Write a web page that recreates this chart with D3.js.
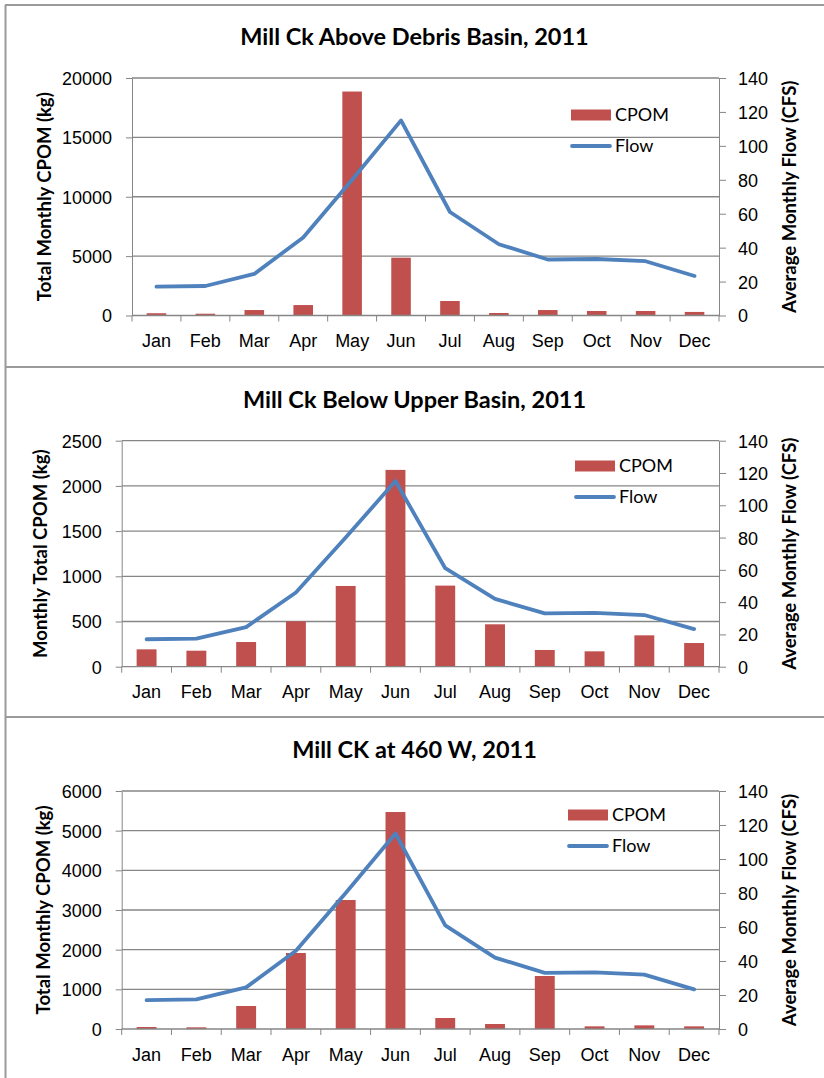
<!DOCTYPE html>
<html>
<head>
<meta charset="utf-8">
<script src="https://cdn.jsdelivr.net/npm/d3@7"></script>
<style>
  body { margin: 0; background: #fff; }
  svg { display: block; font-family: Lato, "Open Sans", sans-serif; }
  .axis path, .axis line { stroke: #868686; }
  .axis text { fill: #000; font-size: 18px; }
</style>
</head>
<body>
<svg width="824" height="1078"></svg>
<script>
const months = ['Jan', 'Feb', 'Mar', 'Apr', 'May', 'Jun', 'Jul', 'Aug', 'Sep', 'Oct', 'Nov', 'Dec'];

// average monthly flow (CFS), same gauge in every panel
const flow = [17, 17.4, 24.5, 46, 80, 115, 61, 42, 33, 33.3, 32, 23.3];

// total monthly CPOM (kg) per site
const cpomAboveDebris = [190, 150, 460, 880, 18860, 4870, 1220, 210, 460, 380, 380, 300];
const cpomBelowUpper = [192, 177, 273, 502, 893, 2177, 897, 469, 185, 170, 347, 262];
const cpom460W = [50, 42, 580, 1916, 3252, 5470, 277, 126, 1336, 67, 92, 67];

const leftTicks1 = [0, 5000, 10000, 15000, 20000];
const leftTicks2 = [0, 500, 1000, 1500, 2000, 2500];
const leftTicks3 = [0, 1000, 2000, 3000, 4000, 5000, 6000];
const rightTicks = [0, 20, 40, 60, 80, 100, 120, 140];

const panels = [
  {title: 'Mill Ck Above Debris Basin, 2011', yLabel: 'Total Monthly CPOM (kg)', cpom: cpomAboveDebris,
   ticks: leftTicks1, left: 132, top: 78, bottom: 315.5, titleY: 45, yLabelX: 45, legendX: 571, legendY: 115},
  {title: 'Mill Ck Below Upper Basin, 2011', yLabel: 'Monthly Total CPOM (kg)', cpom: cpomBelowUpper,
   ticks: leftTicks2, left: 121.7, top: 440.7, bottom: 666.7, titleY: 407.7, yLabelX: 41, legendX: 575, legendY: 466},
  {title: 'Mill CK at 460 W, 2011', yLabel: 'Total Monthly CPOM (kg)', cpom: cpom460W,
   ticks: leftTicks3, left: 121.7, top: 791, bottom: 1029, titleY: 758, yLabelX: 44, legendX: 568, legendY: 815}
];

const right = 719;
const barColor = '#C0504D';
const lineColor = '#4F81BD';
const svg = d3.select('svg');

// frame lines round the three chart boxes
const frame = svg.append('g').attr('stroke', '#9a9a9a').attr('stroke-width', 2);
frame.append('line').attr('x1', 5.5).attr('x2', 5.5).attr('y1', 5).attr('y2', 1078);
[5, 367, 717].forEach(y => {
  frame.append('line').attr('x1', 5).attr('x2', 824).attr('y1', y).attr('y2', y);
});

panels.forEach(p => {
  const g = svg.append('g');

  const x = d3.scaleBand()
    .domain(months)
    .range([p.left, right])
    .padding(0);

  const y = d3.scaleLinear()
    .domain([0, d3.max(p.ticks)])
    .range([p.bottom, p.top]);

  const y2 = d3.scaleLinear()
    .domain([0, 140])
    .range([p.bottom, p.top]);

  // gridlines
  g.append('g')
    .selectAll('line')
    .data(p.ticks.slice(1))
    .enter().append('line')
      .attr('x1', p.left)
      .attr('x2', right)
      .attr('y1', d => y(d))
      .attr('y2', d => y(d))
      .attr('stroke', '#868686')
      .attr('stroke-width', 1.3);

  // left axis
  g.append('g')
    .attr('class', 'axis')
    .attr('transform', `translate(${p.left},0)`)
    .call(d3.axisLeft(y).tickValues(p.ticks).tickFormat(d3.format('d'))
      .tickSize(6).tickSizeOuter(0).tickPadding(14))
    .call(a => a.selectAll('text').attr('dy', '0.36em'));

  // right axis
  g.append('g')
    .attr('class', 'axis')
    .attr('transform', `translate(${right},0)`)
    .call(d3.axisRight(y2).tickValues(rightTicks).tickSize(7).tickSizeOuter(0).tickPadding(12))
    .call(a => a.selectAll('text').attr('dy', '0.36em'));

  // bars
  const bw = x.bandwidth() * 0.4;
  g.append('g')
    .attr('fill', barColor)
    .selectAll('rect')
    .data(p.cpom)
    .enter().append('rect')
      .attr('x', (d, i) => x(months[i]) + (x.bandwidth() - bw) / 2)
      .attr('y', d => y(d))
      .attr('width', bw)
      .attr('height', d => y(0) - y(d));

  // bottom axis: labels centred, ticks on the category boundaries
  const xa = g.append('g')
    .attr('class', 'axis')
    .attr('transform', `translate(0,${p.bottom})`)
    .call(d3.axisBottom(x).tickSize(0).tickPadding(19));
  xa.select('.domain').remove();
  xa.append('line')
    .attr('x1', p.left).attr('x2', right)
    .attr('stroke', '#868686').attr('stroke-width', 1.3);
  xa.selectAll('.bound')
    .data(months.map(m => x(m)).concat([right]))
    .enter().append('line')
      .attr('class', 'bound')
      .attr('x1', d => d).attr('x2', d => d)
      .attr('y1', 0).attr('y2', 6);

  // flow line
  const line = d3.line()
    .x((d, i) => x(months[i]) + x.bandwidth() / 2)
    .y(d => y2(d));
  g.append('path')
    .datum(flow)
    .attr('fill', 'none')
    .attr('stroke', lineColor)
    .attr('stroke-width', 3.8)
    .attr('stroke-linejoin', 'round')
    .attr('stroke-linecap', 'round')
    .attr('d', line);

  // title
  g.append('text')
    .attr('x', 414.5)
    .attr('y', p.titleY)
    .attr('text-anchor', 'middle')
    .attr('font-size', 23.5)
    .attr('font-weight', 'bold')
    .text(p.title);

  // axis titles
  const mid = (p.top + p.bottom) / 2;
  g.append('text')
    .attr('transform', `translate(${p.yLabelX},${mid}) rotate(-90)`)
    .attr('text-anchor', 'middle')
    .attr('dy', '0.35em')
    .attr('font-size', 18.5)
    .attr('font-weight', 'bold')
    .text(p.yLabel);
  g.append('text')
    .attr('transform', `translate(790,${mid}) rotate(-90)`)
    .attr('text-anchor', 'middle')
    .attr('dy', '0.35em')
    .attr('font-size', 18.5)
    .attr('font-weight', 'bold')
    .text('Average Monthly Flow (CFS)');

  // legend
  const lg = g.append('g').attr('transform', `translate(${p.legendX},${p.legendY})`);
  lg.append('rect')
    .attr('x', 0).attr('y', -5.5)
    .attr('width', 40).attr('height', 11)
    .attr('fill', barColor);
  lg.append('text')
    .attr('x', 44).attr('y', 0).attr('dy', '0.36em')
    .attr('font-size', 18)
    .text('CPOM');
  lg.append('line')
    .attr('x1', 1).attr('x2', 39)
    .attr('y1', 31).attr('y2', 31)
    .attr('stroke', lineColor)
    .attr('stroke-width', 3.8)
    .attr('stroke-linecap', 'round');
  lg.append('text')
    .attr('x', 44).attr('y', 31).attr('dy', '0.36em')
    .attr('font-size', 18)
    .text('Flow');
});
</script>
</body>
</html>
